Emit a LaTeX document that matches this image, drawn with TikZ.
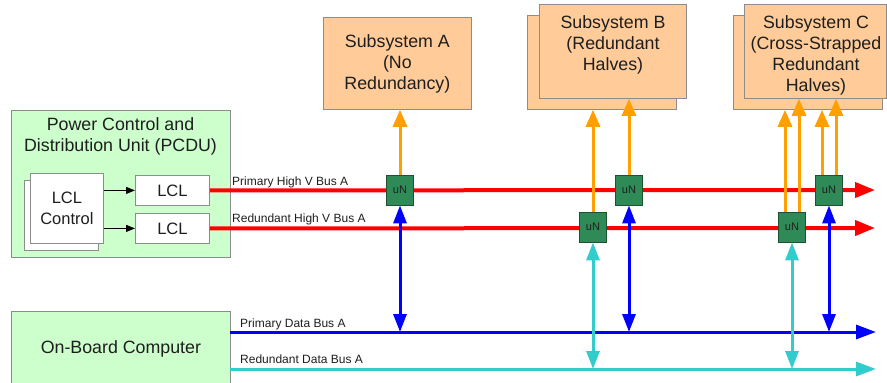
\documentclass[tikz,border=0pt]{standalone}
\usepackage{fontspec}
\setmainfont{Liberation Sans}
\usetikzlibrary{arrows.meta}
\definecolor{boxgray}{RGB}{140,140,140}
\definecolor{pcdugreen}{RGB}{204,255,204}
\definecolor{subfill}{RGB}{255,204,153}
\definecolor{ungreen}{RGB}{46,139,87}
\definecolor{unborder}{RGB}{30,80,50}
\definecolor{orangeln}{RGB}{255,160,0}
\definecolor{cyanln}{RGB}{51,204,204}
\definecolor{blueln}{RGB}{0,0,255}
\definecolor{redln}{RGB}{255,0,0}
\definecolor{txt}{RGB}{30,30,30}
\begin{document}
\begin{tikzpicture}[x=1pt,y=-1pt,
  bigtext/.style={font=\fontsize{17.8}{21}\selectfont, align=center, inner sep=0pt, text=txt},
  lcltext/.style={font=\fontsize{16.5}{21}\selectfont, align=center, inner sep=0pt, text=txt},
  greenbox/.style={draw=boxgray, fill=pcdugreen, line width=0.8pt, inner sep=0pt, anchor=north west},
  whitebox/.style={draw=boxgray, fill=white, line width=0.8pt, inner sep=0pt, anchor=north west},
  orangebox/.style={draw=boxgray, fill=subfill, line width=0.8pt, inner sep=0pt, anchor=north west},
  unode/.style={draw=unborder, fill=ungreen, minimum width=27pt, minimum height=30pt, inner sep=0pt, line width=0.8pt, font=\fontsize{11}{13}\selectfont, text=txt},
  buslabel/.style={font=\fontsize{12}{14}\selectfont, inner sep=0pt, anchor=base west, text=txt},
  redbus/.style={draw=redln, line width=4pt, -{Triangle[length=20pt,width=15pt]}},
  pbus/.style={draw=blueln, line width=3pt, -{Triangle[length=20pt,width=14pt]}},
  rbus/.style={draw=cyanln, line width=3pt, -{Triangle[length=20pt,width=14pt]}},
  orangeup/.style={draw=orangeln, line width=3pt, -{Triangle[length=17pt,width=14pt]}},
  bluelink/.style={draw=blueln, line width=3pt, {Triangle[length=18pt,width=13pt]}-{Triangle[length=18pt,width=13pt]}},
  cyanlink/.style={draw=cyanln, line width=3pt, {Triangle[length=18pt,width=13pt]}-{Triangle[length=18pt,width=13pt]}},
  ctrlarrow/.style={draw=black, line width=0.8pt, -{Triangle[length=9pt,width=7pt]}}
]
\useasboundingbox (0,0) rectangle (887,383);
\clip (0,0) rectangle (887,383);

% PCDU
\node[greenbox, minimum width=219pt, minimum height=147pt] (pcdu) at (11,110) {};
\node[bigtext, anchor=north] (pcdut) at (120.5,117) {Power Control and\\Distribution Unit (PCDU)};
\node[whitebox, minimum width=74pt, minimum height=70pt] (lclcb) at (24,180) {};
\node[whitebox, minimum width=73pt, minimum height=70pt, lcltext] (lclc) at (30,173) {LCL\\Control};
\node[whitebox, minimum width=74pt, minimum height=30pt, lcltext] (lcl1) at (135,175) {LCL};
\node[whitebox, minimum width=74pt, minimum height=30pt, lcltext] (lcl2) at (135,213) {LCL};
\draw[ctrlarrow] (lclc.east |- lcl1.west) -- (lcl1.west);
\draw[ctrlarrow] (lclc.east |- lcl2.west) -- (lcl2.west);

% OBC
\node[greenbox, minimum width=219pt, minimum height=74pt, bigtext] (obc) at (11,311) {On-Board Computer};

% Subsystems
\node[orangebox, minimum width=148pt, minimum height=92pt, bigtext] (subA) at (323,17) {Subsystem A\\(No\\Redundancy)};
\node[orangebox, minimum width=149pt, minimum height=94pt] (bBack) at (527,15) {};
\node[orangebox, minimum width=147pt, minimum height=94pt] (subB) at (539,4) {};
\node[bigtext, anchor=north] (subBt) at (613,15.5) {Subsystem B\\(Redundant\\Halves)};
\node[orangebox, minimum width=149pt, minimum height=94pt] (cBack) at (733,15) {};
\node[orangebox, minimum width=142pt, minimum height=94pt] (subC) at (744,4) {};
\node[bigtext, anchor=north] (subCt) at (816,15.5) {Subsystem C\\(Cross-Strapped\\Redundant\\Halves)};

% Buses
\coordinate (hvpE) at (875,190);
\coordinate (hvrE) at (875,228);
\coordinate (pdS) at (230,332);
\coordinate (pdE) at (876,332);
\coordinate (rdS) at (230,369);
\coordinate (rdE) at (876,369);
\draw[redbus] (lcl1.east) -- (hvpE);
\draw[redbus] (lcl2.east) -- (hvrE);
\draw[pbus] (pdS) -- (pdE);
\draw[rbus] (rdS) -- (rdE);

\node[buslabel] (lblhp) at (232,185) {Primary High V Bus A};
\node[buslabel] (lblhr) at (232,222) {Redundant High V Bus A};
\node[buslabel] (lbldp) at (240,327) {Primary Data Bus A};
\node[buslabel] (lbldr) at (240,363) {Redundant Data Bus A};

% uN nodes
\node[unode] (uA) at (400,190) {uN};
\node[unode] (uB1) at (593,227) {uN};
\node[unode] (uB2) at (629,190) {uN};
\node[unode] (uC1) at (792,227) {uN};
\node[unode] (uC2) at (829,190) {uN};

% Power to subsystems
\draw[orangeup] (uA.north) -- (uA.north |- subA.south);
\draw[orangeup] (uB1.north) -- (uB1.north |- bBack.south);
\draw[orangeup] (uB2.north) -- (uB2.north |- subB.south);
\draw[orangeup] ([xshift=-7pt]uC1.north) -- ([xshift=-7pt]uC1.north |- cBack.south);
\draw[orangeup] ([xshift=7pt]uC1.north) -- ([xshift=7pt]uC1.north |- subC.south);
\draw[orangeup] ([xshift=-7pt]uC2.north) -- ([xshift=-7pt]uC2.north |- cBack.south);
\draw[orangeup] ([xshift=7pt]uC2.north) -- ([xshift=7pt]uC2.north |- subC.south);

% Data links
\draw[bluelink] (uA.south) -- (uA.south |- pdS);
\draw[cyanlink] (uB1.south) -- (uB1.south |- rdS);
\draw[bluelink] (uB2.south) -- (uB2.south |- pdS);
\draw[cyanlink] (uC1.south) -- (uC1.south |- rdS);
\draw[bluelink] (uC2.south) -- (uC2.south |- pdS);
\end{tikzpicture}
\end{document}
